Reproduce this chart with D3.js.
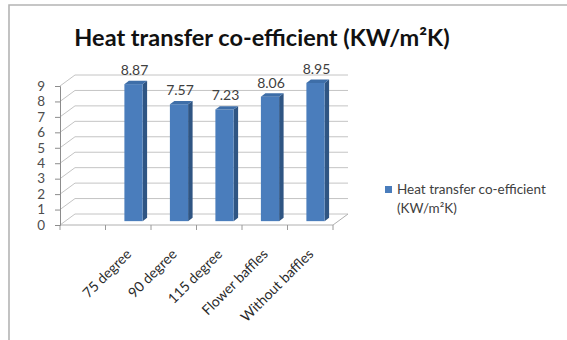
<!DOCTYPE html>
<html>
<head>
<meta charset="utf-8">
<script src="https://cdn.jsdelivr.net/npm/d3@7"></script>
<style>
  html, body { margin: 0; padding: 0; background: #fff; overflow: hidden; }
  svg { display: block; font-family: Lato, "Open Sans", sans-serif; }
</style>
</head>
<body>
<svg id="chart" width="567" height="340"></svg>
<script>
// Heat transfer co-efficient per baffle configuration
const categories = ["75 degree", "90 degree", "115 degree", "Flower baffles", "Without baffles"];
const values = [8.87, 7.57, 7.23, 8.06, 8.95];
const valueLabels = ["8.87", "7.57", "7.23", "8.06", "8.95"];
const yTicks = [0, 1, 2, 3, 4, 5, 6, 7, 8, 9];
const seriesName = ["Heat transfer co-efficient", "(KW/m\u00b2K)"];
const title = "Heat transfer co-efficient (KW/m\u00b2K)";

const svg = d3.select("#chart");

// outer frame of the chart area (runs past the right and bottom edges)
svg.append("path")
  .attr("d", "M9,400L9,5L700,5")
  .attr("fill", "none").attr("stroke", "#b4b4b4").attr("stroke-width", 1.6);

// title
svg.append("text")
  .attr("x", 262).attr("y", 46)
  .attr("text-anchor", "middle")
  .attr("font-size", 23.5).attr("font-weight", "bold")
  .attr("fill", "#111")
  .text(title);

// 3D box geometry: front plane and depth offset toward the back wall
const DX = 15, DY = -11;
const y = d3.scaleLinear().domain([0, 9]).range([225, 86]);
// a leading empty slot sits before the first category on the floor
const x = d3.scaleBand().domain(["", ...categories]).range([60, 333]);
const barW = x.bandwidth() * 0.4;
const f0 = 0.35, f1 = 0.65;

const grid = svg.append("g").attr("stroke", "#c4c4c4").attr("stroke-width", 1).attr("fill", "none");
const xLeft = x.range()[0], xRight = x.range()[1];

// side-wall diagonals and back-wall gridlines
yTicks.forEach(t => {
  const yf = y(t);
  grid.append("path").attr("d", `M${xLeft},${yf}L${xLeft + DX},${yf + DY}L${xRight + DX},${yf + DY}`);
});
// floor outline
grid.append("path").attr("d", `M${xLeft},${y(0)}L${xRight},${y(0)}L${xRight + DX},${y(0) + DY}`)
  .attr("stroke", "#b0b0b0");

// category tick marks along the floor front edge
const bounds = x.domain().map(d => x(d)).concat([xRight]);
svg.append("g").selectAll("line").data(bounds).join("line")
  .attr("x1", d => d).attr("x2", d => d)
  .attr("y1", y(0)).attr("y2", y(0) + 5)
  .attr("stroke", "#9a9a9a");

// value axis on the front left edge
const yAxis = d3.axisLeft(y).tickValues(yTicks).tickSize(5).tickPadding(10).tickFormat(d3.format("d"));
const ga = svg.append("g").attr("transform", `translate(${xLeft},0)`).call(yAxis);
ga.select(".domain").attr("stroke", "#8c8c8c");
ga.selectAll(".tick line").attr("stroke", "#8c8c8c");
ga.selectAll(".tick text").attr("font-size", 13.5).attr("fill", "#4d4d4d")
  .attr("font-family", "Lato, sans-serif");

// bars
const bars = svg.append("g");
categories.forEach((c, i) => {
  const v = values[i];
  const x0 = x(c) + (x.bandwidth() - barW) / 2 + DX * f0;
  const yb = y(0) + DY * f0;
  const yt = y(v) + DY * f0;
  const ddx = DX * (f1 - f0), ddy = DY * (f1 - f0);
  const g = bars.append("g");
  // side face
  g.append("path")
    .attr("d", `M${x0 + barW},${yt}L${x0 + barW + ddx},${yt + ddy}L${x0 + barW + ddx},${yb + ddy}L${x0 + barW},${yb}Z`)
    .attr("fill", "#2f5583");
  // front face
  g.append("rect").attr("x", x0).attr("y", yt).attr("width", barW).attr("height", yb - yt)
    .attr("fill", "#4a7dbc");
  // top face
  g.append("path")
    .attr("d", `M${x0},${yt}L${x0 + barW},${yt}L${x0 + barW + ddx},${yt + ddy}L${x0 + ddx},${yt + ddy}Z`)
    .attr("fill", "#3e6ea8");
  // data label
  g.append("text")
    .attr("x", x0 + barW / 2 + 1).attr("y", yt - 9)
    .attr("text-anchor", "middle").attr("font-size", 14).attr("fill", "#404040")
    .text(valueLabels[i]);
});

// rotated category labels
svg.append("g").selectAll("text").data(categories).join("text")
  .attr("text-anchor", "end")
  .attr("font-size", 14).attr("fill", "#2a2a2a")
  .attr("transform", d => `translate(${x(d) + x.bandwidth() / 2 + 4},${y(0) + 30}) rotate(-45)`)
  .text(d => d);

// legend
const lg = svg.append("g").attr("transform", "translate(385,186)");
lg.append("rect").attr("width", 7).attr("height", 7).attr("fill", "#4a7dbc");
lg.append("text").attr("x", 12).attr("y", 8).attr("font-size", 13.5).attr("fill", "#404040").text(seriesName[0]);
lg.append("text").attr("x", 12).attr("y", 27).attr("font-size", 13.5).attr("fill", "#404040").text(seriesName[1]);
</script>
</body>
</html>
